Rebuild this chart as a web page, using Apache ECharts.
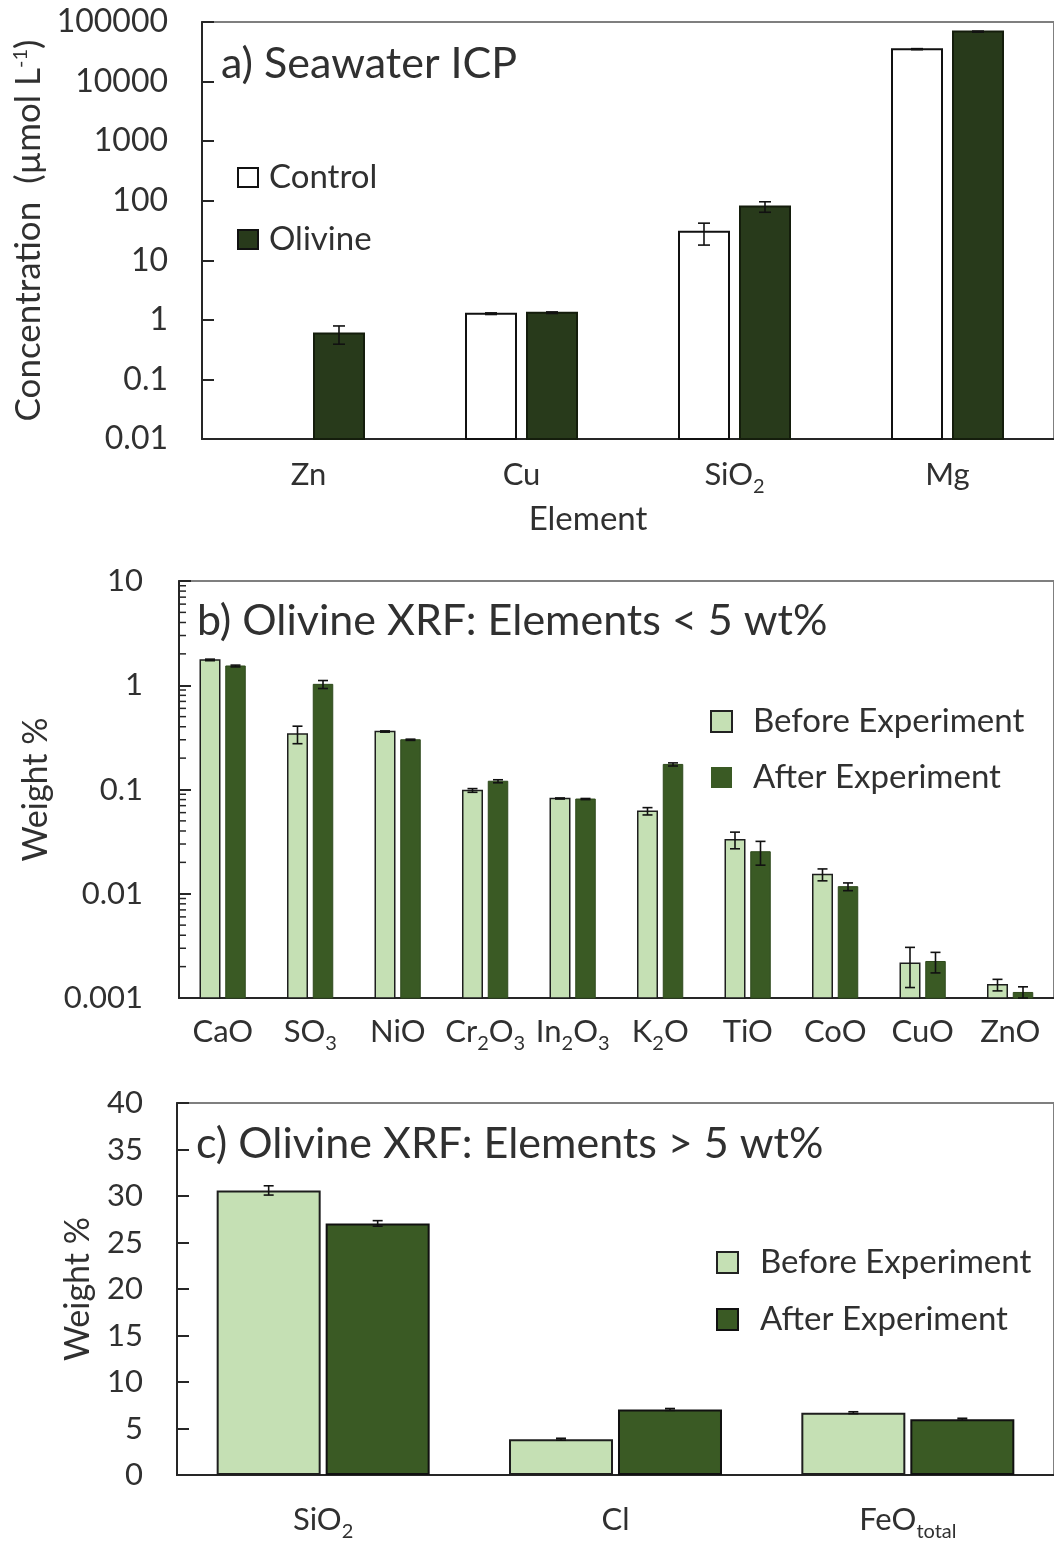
<!DOCTYPE html>
<html>
<head>
<meta charset="utf-8">
<script src="https://cdn.jsdelivr.net/npm/echarts@6/dist/echarts.min.js"></script>
<style>
  html, body { margin: 0; padding: 0; background: #fff; }
  #main { width: 1054px; height: 1542px; }
</style>
</head>
<body>
<div id="main"></div>
<script>
// a) seawater ICP, µmol L-1
const icpElements = ['Zn', 'Cu', 'SiO2', 'Mg'];
const icpControl = [null, 1.27, 30, 35000];
const icpControlErr = [null, 0.04, 12, 700];
const icpOlivine = [0.59, 1.32, 80, 69000];
const icpOlivineErr = [0.2, 0.04, 16, 1400];

// b) olivine XRF, elements < 5 wt%
const minorOxides = ['CaO', 'SO3', 'NiO', 'Cr2O3', 'In2O3', 'K2O', 'TiO', 'CoO', 'CuO', 'ZnO'];
const minorBefore = [1.75, 0.34, 0.36, 0.098, 0.082, 0.062, 0.033, 0.0153, 0.00216, 0.00134];
const minorBeforeErr = [0.03, 0.065, 0.005, 0.004, 0.001, 0.005, 0.006, 0.002, 0.0009, 0.00017];
const minorAfter = [1.53, 1.02, 0.30, 0.12, 0.081, 0.174, 0.0253, 0.0117, 0.00224, 0.00113];
const minorAfterErr = [0.03, 0.09, 0.004, 0.004, 0.001, 0.006, 0.0065, 0.001, 0.0005, 0.00015];

// c) olivine XRF, elements > 5 wt%
const majorOxides = ['SiO2', 'Cl', 'FeOtotal'];
const majorBefore = [30.6, 3.85, 6.7];
const majorBeforeErr = [0.5, 0.1, 0.1];
const majorAfter = [27.05, 7.05, 6.0];
const majorAfterErr = [0.3, 0.1, 0.1];

const font = 'Lato';
const ink = '#303030';
const lightGreen = '#c5e0b4';
const darkGreen = '#3a5a24';
const icpGreen = '#283a1b';

const subFmt = v => v.replace(/total$/, '{s|total}').replace(/(\d)/g, '{s|$1}');
const logFmt = v => String(+(+v).toPrecision(1));

const labelRich = {
  s: { fontSize: 20, fontFamily: font, color: ink, verticalAlign: 'bottom', lineHeight: 21 }
};

function xAxisFor(i, data, margin) {
  return {
    type: 'category', gridIndex: i, data: data,
    axisLine: { lineStyle: { color: '#262626', width: 2 } },
    axisTick: { show: false },
    axisLabel: { interval: 0, margin: margin, fontSize: 31, fontFamily: font, color: ink, lineHeight: 44, formatter: subFmt, rich: labelRich }
  };
}

function yAxisBase(i) {
  return {
    gridIndex: i,
    axisLine: { show: true, lineStyle: { color: '#262626', width: 2 } },
    axisTick: { show: true, inside: true, length: 12, lineStyle: { color: '#262626', width: 2 } },
    splitLine: { show: false },
    nameLocation: 'middle', nameRotate: 90,
    nameTextStyle: { fontSize: 34, fontFamily: font, color: ink }
  };
}

// bars on a log axis have to start at the axis floor, not at 1
function logBars(i, name, vals, side, half, width, floor, style) {
  const data = [];
  vals.forEach((v, k) => { if (v != null) data.push([k, v]); });
  return {
    name: name, type: 'custom', xAxisIndex: i, yAxisIndex: i, z: 2, silent: true,
    data: data,
    renderItem: (params, api) => {
      const top = api.coord([api.value(0), api.value(1)]);
      const base = api.coord([api.value(0), floor]);
      return {
        type: 'rect',
        shape: { x: top[0] + side * half - width / 2, y: top[1], width: width, height: base[1] - top[1] },
        style: style
      };
    }
  };
}

function errorBars(i, vals, errs, side, half, cap, floor) {
  const data = [];
  vals.forEach((v, k) => { if (v != null) data.push([k, v, errs[k]]); });
  return {
    type: 'custom', xAxisIndex: i, yAxisIndex: i, z: 10, silent: true,
    data: data,
    renderItem: (params, api) => {
      const k = api.value(0), v = api.value(1), e = api.value(2);
      const hi = api.coord([k, v + e]);
      const lo = api.coord([k, Math.max(v - e, floor)]);
      const x = hi[0] + side * half;
      const st = { stroke: '#111', lineWidth: 1.6 };
      return {
        type: 'group',
        children: [
          { type: 'line', shape: { x1: x, y1: hi[1], x2: x, y2: lo[1] }, style: st },
          { type: 'line', shape: { x1: x - cap, y1: hi[1], x2: x + cap, y2: hi[1] }, style: st },
          { type: 'line', shape: { x1: x - cap, y1: lo[1], x2: x + cap, y2: lo[1] }, style: st }
        ]
      };
    }
  };
}

const gridBorder = { show: true, borderColor: '#7f7f7f', borderWidth: 2, backgroundColor: 'transparent' };
const titleStyle = { fontSize: 43, fontWeight: 'normal', fontFamily: font, color: ink };
const legendText = { fontSize: 33, fontFamily: font, color: ink, lineHeight: 30 };

const chart = echarts.init(document.getElementById('main'));

const option = {
  animation: false,
  backgroundColor: '#fff',
  textStyle: { fontFamily: font },
  title: [
    { text: 'a) Seawater ICP', left: 216, top: 38, textStyle: titleStyle },
    { text: 'b) Olivine XRF: Elements < 5 wt%', left: 192, top: 595, textStyle: titleStyle },
    { text: 'c) Olivine XRF: Elements > 5 wt%', left: 191, top: 1118, textStyle: titleStyle }
  ],
  legend: [
    {
      left: 237, top: 161, orient: 'vertical', icon: 'rect', itemWidth: 20, itemHeight: 19, itemGap: 29,
      padding: 0, selectedMode: false, textStyle: Object.assign({ padding: [0, 0, 0, 6] }, legendText),
      data: [
        { name: 'Control', itemStyle: { color: '#fff', borderColor: '#111', borderWidth: 2 } },
        { name: 'Olivine', itemStyle: { color: icpGreen, borderColor: '#111', borderWidth: 2 } }
      ]
    },
    {
      left: 710, top: 705, orient: 'vertical', icon: 'rect', itemWidth: 21, itemHeight: 21, itemGap: 23,
      padding: 0, selectedMode: false, textStyle: Object.assign({ padding: [0, 0, 0, 16] }, legendText),
      data: [
        { name: 'Before Experiment', itemStyle: { color: lightGreen, borderColor: '#222', borderWidth: 2 } },
        { name: 'After Experiment', itemStyle: { color: darkGreen, borderColor: darkGreen, borderWidth: 0 } }
      ]
    },
    {
      left: 716, top: 1246, orient: 'vertical', icon: 'rect', itemWidth: 21, itemHeight: 21, itemGap: 24,
      padding: 0, selectedMode: false, textStyle: Object.assign({ padding: [0, 0, 0, 17] }, legendText),
      data: [
        { name: 'Before Experiment', itemStyle: { color: lightGreen, borderColor: '#222', borderWidth: 2 } },
        { name: 'After Experiment', itemStyle: { color: darkGreen, borderColor: '#111', borderWidth: 2 } }
      ]
    }
  ],
  grid: [
    Object.assign({ left: 202, top: 22, width: 860, height: 417 }, gridBorder),
    Object.assign({ left: 179, top: 581, width: 880, height: 417 }, gridBorder),
    Object.assign({ left: 177, top: 1103, width: 885, height: 374 }, gridBorder)
  ],
  xAxis: [
    Object.assign(xAxisFor(0, icpElements, 14), {
      name: 'Element', nameLocation: 'middle', nameGap: 64,
      nameTextStyle: { fontSize: 33, fontFamily: font, color: ink, padding: [0, 80, 0, 0] }
    }),
    xAxisFor(1, minorOxides, 12),
    xAxisFor(2, majorOxides, 23)
  ],
  yAxis: [
    Object.assign(yAxisBase(0), {
      type: 'log', logBase: 10, min: 0.01, max: 100000, splitNumber: 7,
      axisLabel: { fontSize: 32, fontFamily: font, color: ink, margin: 34, formatter: logFmt },
      name: 'Concentration  (µmol L{sup|-1})', nameGap: 154,
      nameTextStyle: {
        fontSize: 35, fontFamily: font, color: ink, lineHeight: 35,
        rich: { sup: { fontSize: 20, fontFamily: font, color: ink, verticalAlign: 'top', lineHeight: 16 } }
      }
    }),
    Object.assign(yAxisBase(1), {
      type: 'log', logBase: 10, min: 0.001, max: 10, splitNumber: 4,
      axisLabel: { fontSize: 31, fontFamily: font, color: ink, margin: 36, formatter: logFmt },
      name: 'Weight %', nameGap: 107
    }),
    Object.assign(yAxisBase(2), {
      type: 'value', min: 0, max: 40, interval: 5,
      axisLabel: { fontSize: 31, fontFamily: font, color: ink, margin: 34 },
      name: 'Weight %', nameGap: 82
    })
  ],
  series: [
    logBars(0, 'Control', icpControl, -1, 30.5, 50, 0.01, { fill: '#fff', stroke: '#111', lineWidth: 2 }),
    logBars(0, 'Olivine', icpOlivine, 1, 30.5, 50, 0.01, { fill: icpGreen, stroke: '#141d0c', lineWidth: 2 }),
    errorBars(0, icpControl, icpControlErr, -1, 30.5, 6, 0.01),
    errorBars(0, icpOlivine, icpOlivineErr, 1, 30.5, 6, 0.01),

    logBars(1, 'Before Experiment', minorBefore, -1, 12.75, 19.5, 0.001, { fill: lightGreen, stroke: '#1e1e1e', lineWidth: 1.5 }),
    logBars(1, 'After Experiment', minorAfter, 1, 12.75, 19.5, 0.001, { fill: darkGreen, stroke: '#2f4a1c', lineWidth: 1 }),
    errorBars(1, minorBefore, minorBeforeErr, -1, 12.75, 5, 0.001),
    errorBars(1, minorAfter, minorAfterErr, 1, 12.75, 5, 0.001),

    { name: 'Before Experiment', type: 'bar', xAxisIndex: 2, yAxisIndex: 2, data: majorBefore, barWidth: 104, barGap: '4.8%',
      itemStyle: { color: lightGreen, borderColor: '#1e1e1e', borderWidth: 2 } },
    { name: 'After Experiment', type: 'bar', xAxisIndex: 2, yAxisIndex: 2, data: majorAfter, barWidth: 104, barGap: '4.8%',
      itemStyle: { color: darkGreen, borderColor: '#111', borderWidth: 2 } },
    errorBars(2, majorBefore, majorBeforeErr, -1, 54.5, 5, 0),
    errorBars(2, majorAfter, majorAfterErr, 1, 54.5, 5, 0)
  ]
};

chart.setOption(option);

// log minor ticks on the panel b axis, placed through the axis scale
const minorVals = [];
for (let d = -3; d < 1; d++) {
  for (let k = 2; k <= 9; k++) minorVals.push(k * Math.pow(10, d));
}
const axisX = 179;
chart.setOption({
  graphic: minorVals.map(v => {
    const y = chart.convertToPixel({ yAxisIndex: 1 }, v);
    return { type: 'line', silent: true, z: 20, shape: { x1: axisX, y1: y, x2: axisX + 7, y2: y },
      style: { stroke: '#262626', lineWidth: 1.5 } };
  })
});
</script>
</body>
</html>
